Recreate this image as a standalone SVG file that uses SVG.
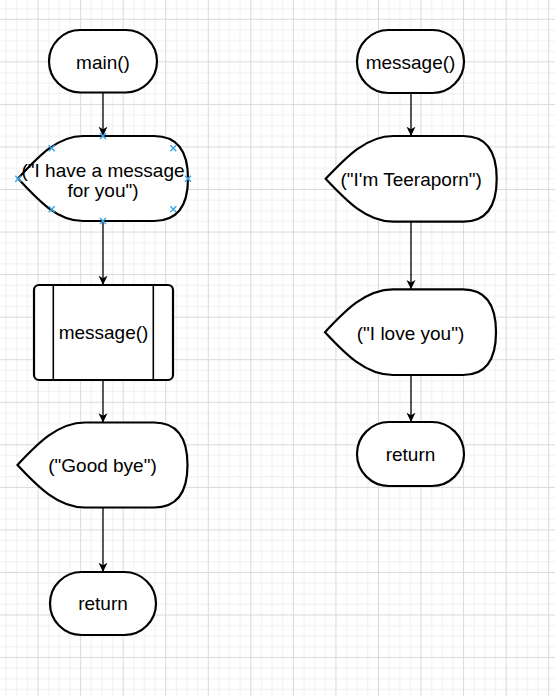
<svg xmlns="http://www.w3.org/2000/svg" width="555" height="696" viewBox="0 0 555 696">
  <style>
    .shape { fill: #ffffff; stroke: #000000; stroke-width: 2.2; }
    .inner { fill: none; stroke: #000000; stroke-width: 1.6; }
    .conn { fill: none; stroke: #000000; stroke-width: 1.3; }
    .lbl { font-family: "Liberation Sans", Arial, Helvetica, sans-serif; font-size: 19px; fill: #000000; text-anchor: middle; }
    .pt { fill: none; stroke: #3ea6e6; stroke-width: 1.5; }
  </style>
  <defs>
    <pattern id="grid" patternUnits="userSpaceOnUse" x="37.6" y="18.8" width="42.55" height="42.55">
      <rect x="10.64" y="0" width="1" height="42.55" fill="#efefef"/>
      <rect x="21.28" y="0" width="1" height="42.55" fill="#efefef"/>
      <rect x="31.91" y="0" width="1" height="42.55" fill="#efefef"/>
      <rect x="0" y="10.64" width="42.55" height="1" fill="#efefef"/>
      <rect x="0" y="21.28" width="42.55" height="1" fill="#efefef"/>
      <rect x="0" y="31.91" width="42.55" height="1" fill="#efefef"/>
      <rect x="0" y="0" width="1" height="42.55" fill="#d9d9d9"/>
      <rect x="0" y="0" width="42.55" height="1" fill="#d9d9d9"/>
    </pattern>
    <marker id="arr" viewBox="0 0 10 10" refX="9.3" refY="5" markerWidth="10" markerHeight="10" markerUnits="userSpaceOnUse" orient="auto">
      <path d="M0,0.5 L9.3,5 L0,9.5 L2.5,5 Z" fill="#000000"/>
    </marker>
  </defs>

  <rect x="0" y="0" width="555" height="696" fill="#ffffff"/>
  <rect x="0" y="0" width="555" height="696" fill="url(#grid)"/>

  <g id="connectors">
    <line class="conn" x1="103" y1="92.5" x2="103" y2="136" marker-end="url(#arr)"/>
    <line class="conn" x1="103" y1="221" x2="103" y2="285" marker-end="url(#arr)"/>
    <line class="conn" x1="103" y1="380" x2="103" y2="422.5" marker-end="url(#arr)"/>
    <line class="conn" x1="103" y1="507.5" x2="103" y2="572" marker-end="url(#arr)"/>
    <line class="conn" x1="411" y1="93" x2="411" y2="136" marker-end="url(#arr)"/>
    <line class="conn" x1="411" y1="221.7" x2="411" y2="289.3" marker-end="url(#arr)"/>
    <line class="conn" x1="411" y1="375" x2="411" y2="422" marker-end="url(#arr)"/>
  </g>

  <g id="main">
    <rect class="shape" x="49" y="30" width="108" height="62.5" rx="31.25"/>
    <text class="lbl" x="103" y="68.8">main()</text>
  </g>

  <g id="display-message">
    <path class="shape" d="M18,178.5 C38,157 57,136 83,136 L154,136 Q188,136 188,178.5 Q188,221 154,221 L83,221 C57,221 38,200 18,178.5 Z"/>
    <text class="lbl" x="103" y="176.5">("I have a message</text>
    <text class="lbl" x="103" y="197">for you")</text>
  </g>

  <g id="call-message">
    <rect class="shape" x="34" y="285" width="139" height="95" rx="5"/>
    <line class="inner" x1="53.3" y1="285" x2="53.3" y2="380"/>
    <line class="inner" x1="153.3" y1="285" x2="153.3" y2="380"/>
    <text class="lbl" x="103.5" y="339.3">message()</text>
  </g>

  <g id="display-goodbye">
    <path class="shape" d="M17.5,465 C37.5,443.5 58,422.5 85,422.5 L154,422.5 Q187.5,422.5 187.5,465 Q187.5,507.5 154,507.5 L85,507.5 C58,507.5 37.5,486.5 17.5,465 Z"/>
    <text class="lbl" x="102.5" y="472.3">("Good bye")</text>
  </g>

  <g id="return-main">
    <rect class="shape" x="50" y="572" width="106" height="63" rx="31.5"/>
    <text class="lbl" x="103" y="610">return</text>
  </g>

  <g id="message-func">
    <rect class="shape" x="357" y="30" width="107" height="63" rx="31.5"/>
    <text class="lbl" x="410.5" y="69">message()</text>
  </g>

  <g id="display-teeraporn">
    <path class="shape" d="M325.7,178.8 C346,157.4 366,136 393.3,136 L463.3,136 Q496.7,136 496.7,178.8 Q496.7,221.7 463.3,221.7 L393.3,221.7 C366,221.7 346,200.2 325.7,178.8 Z"/>
    <text class="lbl" x="411.2" y="185.6">("I'm Teeraporn")</text>
  </g>

  <g id="display-love">
    <path class="shape" d="M325,332.2 C345,310.8 365.5,289.3 393,289.3 L463,289.3 Q496,289.3 496,332.2 Q496,375 463,375 L393,375 C365.5,375 345,353.6 325,332.2 Z"/>
    <text class="lbl" x="410.5" y="339.5">("I love you")</text>
  </g>

  <g id="return-message">
    <rect class="shape" x="357" y="422" width="107" height="64" rx="32"/>
    <text class="lbl" x="410.5" y="461">return</text>
  </g>

  <g id="connection-points">
    <path class="pt" d="M100,133 l6,6 m0,-6 l-6,6"/>
    <path class="pt" d="M48.7,145.3 l6,6 m0,-6 l-6,6"/>
    <path class="pt" d="M170.3,145.3 l6,6 m0,-6 l-6,6"/>
    <path class="pt" d="M15.3,175.8 l6,6 m0,-6 l-6,6"/>
    <path class="pt" d="M185,175.8 l6,6 m0,-6 l-6,6"/>
    <path class="pt" d="M48.7,206.3 l6,6 m0,-6 l-6,6"/>
    <path class="pt" d="M170.3,206.3 l6,6 m0,-6 l-6,6"/>
    <path class="pt" d="M100,218 l6,6 m0,-6 l-6,6"/>
  </g>
</svg>
